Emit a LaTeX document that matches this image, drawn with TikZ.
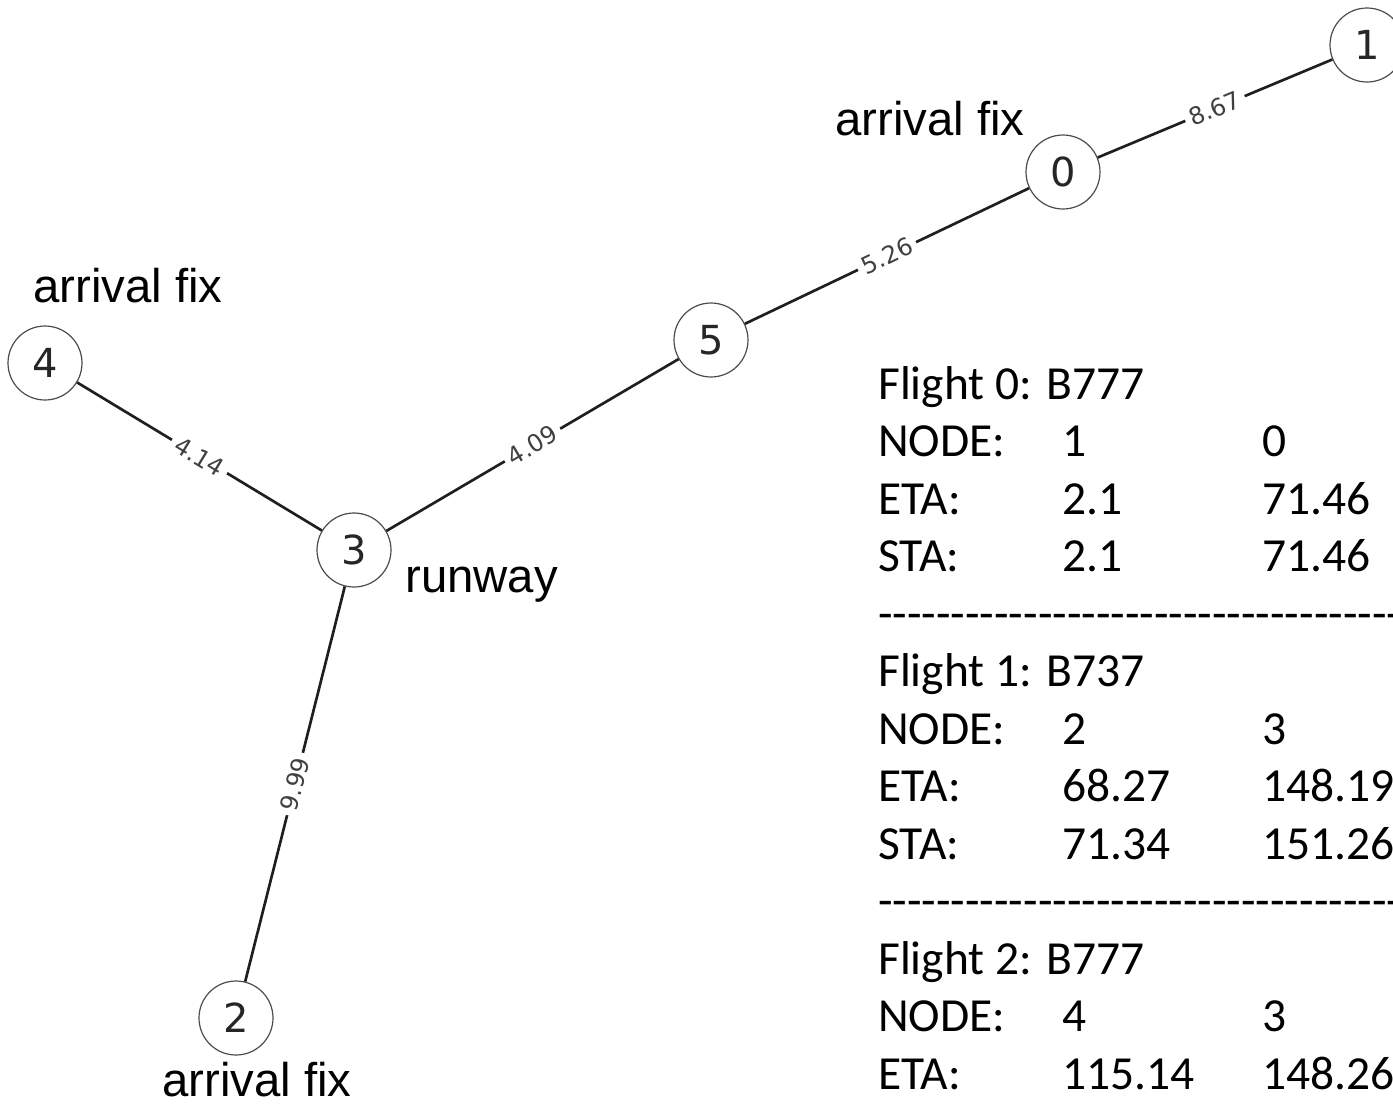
\documentclass[tikz,border=0pt]{standalone}
\usepackage{fontspec}
\setmainfont{Liberation Sans}
\newfontfamily\calfont{Carlito}
\newfontfamily\dvfont{DejaVu Sans}
\begin{document}
\begin{tikzpicture}[x=0.75pt,y=-0.75pt,
  vtx/.style={circle, draw=black!70, line width=0.9pt, fill=white, minimum size=55.5pt, inner sep=0pt, font=\dvfont\fontsize{30}{30}\selectfont, text=black!85},
  edge/.style={draw=black!88, line width=2pt},
  wlab/.style={sloped, midway, fill=white, inner sep=4pt, font=\dvfont\fontsize{18}{18}\selectfont, text=black!75},
  ann/.style={anchor=base west, inner sep=0pt, font=\fontsize{35.5}{40}\selectfont},
  tab/.style={anchor=base west, inner sep=0pt, font=\calfont\fontsize{35.6}{40}\selectfont}]
\useasboundingbox (0,0) rectangle (1393,1104);
\clip (0,0) rectangle (1393,1104);
% vertices
\node[vtx] (n1) at (1367,45) {1};
\node[vtx] (n0) at (1063,172) {0};
\node[vtx] (n5) at (711,340) {5};
\node[vtx] (n3) at (354,550) {3};
\node[vtx] (n4) at (45,363) {4};
\node[vtx] (n2) at (236,1018) {2};
% edges
\draw[edge] (n0) -- node[wlab] {8.67} (n1);
\draw[edge] (n5) -- node[wlab] {5.26} (n0);
\draw[edge] (n3) -- node[wlab] {4.09} (n5);
\draw[edge] (n4) -- node[wlab] {4.14} (n3);
\draw[edge] (n2) -- node[wlab] {9.99} (n3);
% annotations
\node[ann] (a0) at (835,135) {arrival fix};
\node[ann] (a4) at (33,302) {arrival fix};
\node[ann] (a2) at (162,1096) {arrival fix};
\node[ann] (ar) at (405,592) {runway};
% table
\node[tab] (f0) at (878,399) {Flight 0: B777};
\node[tab] (f0n) at (878,456.5) {NODE:};
\node[tab] (f0n1) at (1062,456.5) {1};
\node[tab] (f0n2) at (1262,456.5) {0};
\node[tab] (f0e) at (878,514) {ETA:};
\node[tab] (f0e1) at (1062,514) {2.1};
\node[tab] (f0e2) at (1262,514) {71.46};
\node[tab] (f0s) at (878,571.5) {STA:};
\node[tab] (f0s1) at (1062,571.5) {2.1};
\node[tab] (f0s2) at (1262,571.5) {71.46};
\node[tab] (d1) at (878,629) {----------------------------------------};
\node[tab] (f1) at (878,686.5) {Flight 1: B737};
\node[tab] (f1n) at (878,744) {NODE:};
\node[tab] (f1n1) at (1062,744) {2};
\node[tab] (f1n2) at (1262,744) {3};
\node[tab] (f1e) at (878,801.5) {ETA:};
\node[tab] (f1e1) at (1062,801.5) {68.27};
\node[tab] (f1e2) at (1262,801.5) {148.19};
\node[tab] (f1s) at (878,859) {STA:};
\node[tab] (f1s1) at (1062,859) {71.34};
\node[tab] (f1s2) at (1262,859) {151.26};
\node[tab] (d2) at (878,916.5) {----------------------------------------};
\node[tab] (f2) at (878,974) {Flight 2: B777};
\node[tab] (f2n) at (878,1031.5) {NODE:};
\node[tab] (f2n1) at (1062,1031.5) {4};
\node[tab] (f2n2) at (1262,1031.5) {3};
\node[tab] (f2e) at (878,1089) {ETA:};
\node[tab] (f2e1) at (1062,1089) {115.14};
\node[tab] (f2e2) at (1262,1089) {148.26};
\end{tikzpicture}
\end{document}
